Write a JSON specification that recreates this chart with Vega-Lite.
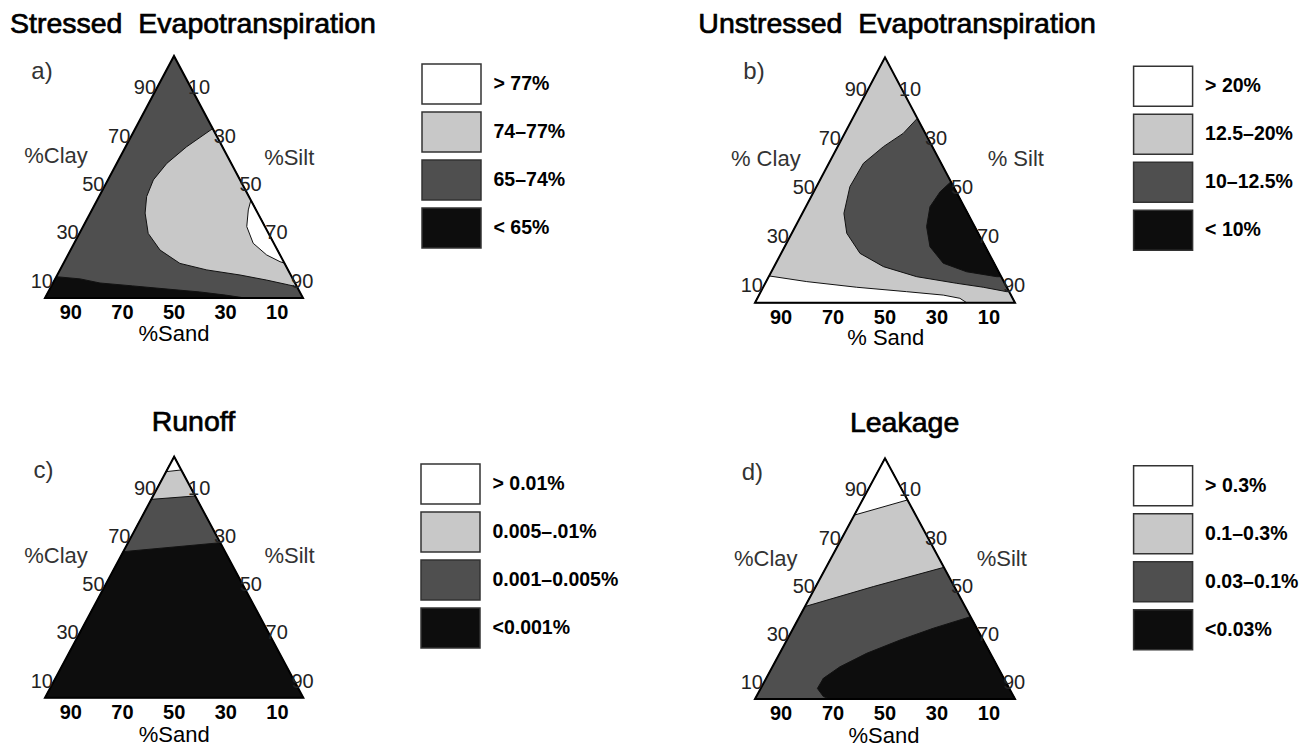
{
"$schema": "https://vega.github.io/schema/vega-lite/v6.json",
"padding": 0,
"spacing": 0,
"columns": 2,
"background": "white",
"config": {
  "view": {"stroke": null},
  "font": "Liberation Sans",
  "legend": {
    "orient": "none", "padding": 0, "offset": 0,
    "symbolType": "M-1.475,-1H1.475V1H-1.475Z", "symbolSize": 1600,
    "symbolStrokeColor": "#333", "symbolStrokeWidth": 1.5, "symbolOpacity": 1,
    "labelFont": "Liberation Sans", "labelFontSize": 19.5, "labelFontWeight": "bold", "labelColor": "#000",
    "labelOffset": 21, "labelLimit": 300, "labelBaseline": "middle", "rowPadding": 2
  }
},
"resolve": {"scale": {"x": "independent", "y": "independent", "fill": "independent"}, "legend": {"fill": "independent"}},
"datasets": {
  "ticks": [
    {"side":"left","label":"90","u":45,"c":90},{"side":"left","label":"70","u":35,"c":70},{"side":"left","label":"50","u":25,"c":50},{"side":"left","label":"30","u":15,"c":30},{"side":"left","label":"10","u":5,"c":10},
    {"side":"right","label":"10","u":55,"c":90},{"side":"right","label":"30","u":65,"c":70},{"side":"right","label":"50","u":75,"c":50},{"side":"right","label":"70","u":85,"c":30},{"side":"right","label":"90","u":95,"c":10},
    {"side":"bottom","label":"90","u":10,"c":0},{"side":"bottom","label":"70","u":30,"c":0},{"side":"bottom","label":"50","u":50,"c":0},{"side":"bottom","label":"30","u":70,"c":0},{"side":"bottom","label":"10","u":90,"c":0}
  ],
  "ra": [
    {"poly":"a0","level":0,"cat":"65–74%","i":0,"u":0,"c":0},{"poly":"a0","level":0,"cat":"65–74%","i":1,"u":50,"c":100},{"poly":"a0","level":0,"cat":"65–74%","i":2,"u":100,"c":0},
    {"poly":"a1","level":1,"cat":"< 65%","i":0,"u":0,"c":0},{"poly":"a1","level":1,"cat":"< 65%","i":1,"u":4.4,"c":8.8},{"poly":"a1","level":1,"cat":"< 65%","i":2,"u":13.6,"c":7.9},{"poly":"a1","level":1,"cat":"< 65%","i":3,"u":21.3,"c":6.2},{"poly":"a1","level":1,"cat":"< 65%","i":4,"u":34,"c":5},{"poly":"a1","level":1,"cat":"< 65%","i":5,"u":47.3,"c":3.7},{"poly":"a1","level":1,"cat":"< 65%","i":6,"u":60,"c":2.5},{"poly":"a1","level":1,"cat":"< 65%","i":7,"u":70,"c":1.2},{"poly":"a1","level":1,"cat":"< 65%","i":8,"u":77.5,"c":0},
    {"poly":"a2","level":1,"cat":"74–77%","i":0,"u":65,"c":70},{"poly":"a2","level":1,"cat":"74–77%","i":1,"u":97.7,"c":4.6},{"poly":"a2","level":1,"cat":"74–77%","i":2,"u":94.5,"c":5.4},{"poly":"a2","level":1,"cat":"74–77%","i":3,"u":85.9,"c":7.4},{"poly":"a2","level":1,"cat":"74–77%","i":4,"u":75.6,"c":9.5},{"poly":"a2","level":1,"cat":"74–77%","i":5,"u":62.7,"c":11.6},{"poly":"a2","level":1,"cat":"74–77%","i":6,"u":52.3,"c":14.3},{"poly":"a2","level":1,"cat":"74–77%","i":7,"u":44.6,"c":19.8},{"poly":"a2","level":1,"cat":"74–77%","i":8,"u":40,"c":26.7},{"poly":"a2","level":1,"cat":"74–77%","i":9,"u":38.8,"c":35.1},{"poly":"a2","level":1,"cat":"74–77%","i":10,"u":39.4,"c":41.9},{"poly":"a2","level":1,"cat":"74–77%","i":11,"u":42,"c":48.8},{"poly":"a2","level":1,"cat":"74–77%","i":12,"u":47.2,"c":55.6},{"poly":"a2","level":1,"cat":"74–77%","i":13,"u":54.9,"c":62.5},
    {"poly":"a3","level":2,"cat":"> 77%","i":0,"u":79.8,"c":40.4},{"poly":"a3","level":2,"cat":"> 77%","i":1,"u":78.8,"c":36.4},{"poly":"a3","level":2,"cat":"> 77%","i":2,"u":78.2,"c":29.5},{"poly":"a3","level":2,"cat":"> 77%","i":3,"u":80.7,"c":22.6},{"poly":"a3","level":2,"cat":"> 77%","i":4,"u":85.9,"c":17.8},{"poly":"a3","level":2,"cat":"> 77%","i":5,"u":91.1,"c":15},{"poly":"a3","level":2,"cat":"> 77%","i":6,"u":92.8,"c":14.4}
  ],
  "rb": [
    {"poly":"b0","level":0,"cat":"12.5–20%","i":0,"u":0,"c":0},{"poly":"b0","level":0,"cat":"12.5–20%","i":1,"u":50,"c":100},{"poly":"b0","level":0,"cat":"12.5–20%","i":2,"u":100,"c":0},
    {"poly":"b1","level":1,"cat":"> 20%","i":0,"u":0,"c":0},{"poly":"b1","level":1,"cat":"> 20%","i":1,"u":5.45,"c":10.9},{"poly":"b1","level":1,"cat":"> 20%","i":2,"u":19.9,"c":8.6},{"poly":"b1","level":1,"cat":"> 20%","i":3,"u":39.1,"c":6.3},{"poly":"b1","level":1,"cat":"> 20%","i":4,"u":58.3,"c":4.5},{"poly":"b1","level":1,"cat":"> 20%","i":5,"u":72.4,"c":3.1},{"poly":"b1","level":1,"cat":"> 20%","i":6,"u":78.8,"c":1.8},{"poly":"b1","level":1,"cat":"> 20%","i":7,"u":81.4,"c":0},
    {"poly":"b2","level":1,"cat":"10–12.5%","i":0,"u":62.4,"c":75.1},{"poly":"b2","level":1,"cat":"10–12.5%","i":1,"u":57,"c":69},{"poly":"b2","level":1,"cat":"10–12.5%","i":2,"u":49.4,"c":63.6},{"poly":"b2","level":1,"cat":"10–12.5%","i":3,"u":41.7,"c":56.8},{"poly":"b2","level":1,"cat":"10–12.5%","i":4,"u":36.5,"c":47.3},{"poly":"b2","level":1,"cat":"10–12.5%","i":5,"u":34.2,"c":36.4},{"poly":"b2","level":1,"cat":"10–12.5%","i":6,"u":35.3,"c":28.3},{"poly":"b2","level":1,"cat":"10–12.5%","i":7,"u":40.4,"c":20.1},{"poly":"b2","level":1,"cat":"10–12.5%","i":8,"u":49.4,"c":14.7},{"poly":"b2","level":1,"cat":"10–12.5%","i":9,"u":62.2,"c":10.6},{"poly":"b2","level":1,"cat":"10–12.5%","i":10,"u":77.6,"c":7.9},{"poly":"b2","level":1,"cat":"10–12.5%","i":11,"u":87.8,"c":6.3},{"poly":"b2","level":1,"cat":"10–12.5%","i":12,"u":96.8,"c":4.5},{"poly":"b2","level":1,"cat":"10–12.5%","i":13,"u":97.75,"c":4.5},
    {"poly":"b3","level":2,"cat":"< 10%","i":0,"u":75.35,"c":49.3},{"poly":"b3","level":2,"cat":"< 10%","i":1,"u":71.2,"c":45.2},{"poly":"b3","level":2,"cat":"< 10%","i":2,"u":67.3,"c":39.1},{"poly":"b3","level":2,"cat":"< 10%","i":3,"u":66,"c":31},{"poly":"b3","level":2,"cat":"< 10%","i":4,"u":67.3,"c":22.8},{"poly":"b3","level":2,"cat":"< 10%","i":5,"u":72.4,"c":16.1},{"poly":"b3","level":2,"cat":"< 10%","i":6,"u":81.4,"c":12.6},{"poly":"b3","level":2,"cat":"< 10%","i":7,"u":93,"c":10.6},{"poly":"b3","level":2,"cat":"< 10%","i":8,"u":94.7,"c":10.6}
  ],
  "rc": [
    {"poly":"c0","level":0,"cat":"<0.001%","i":0,"u":0,"c":0},{"poly":"c0","level":0,"cat":"<0.001%","i":1,"u":50,"c":100},{"poly":"c0","level":0,"cat":"<0.001%","i":2,"u":100,"c":0},
    {"poly":"c1","level":1,"cat":"0.001–0.005%","i":0,"u":30.3,"c":60.6},{"poly":"c1","level":1,"cat":"0.001–0.005%","i":1,"u":50,"c":100},{"poly":"c1","level":1,"cat":"0.001–0.005%","i":2,"u":67.85,"c":64.3},
    {"poly":"c2","level":2,"cat":"0.005–.01%","i":0,"u":41.15,"c":82.3},{"poly":"c2","level":2,"cat":"0.005–.01%","i":1,"u":50,"c":100},{"poly":"c2","level":2,"cat":"0.005–.01%","i":2,"u":58.15,"c":83.7},
    {"poly":"c3","level":3,"cat":"> 0.01%","i":0,"u":46.9,"c":93.8},{"poly":"c3","level":3,"cat":"> 0.01%","i":1,"u":50,"c":100},{"poly":"c3","level":3,"cat":"> 0.01%","i":2,"u":52.75,"c":94.5}
  ],
  "rd": [
    {"poly":"d0","level":0,"cat":"0.03–0.1%","i":0,"u":0,"c":0},{"poly":"d0","level":0,"cat":"0.03–0.1%","i":1,"u":50,"c":100},{"poly":"d0","level":0,"cat":"0.03–0.1%","i":2,"u":100,"c":0},
    {"poly":"d1","level":1,"cat":"<0.03%","i":0,"u":82.9,"c":34.2},{"poly":"d1","level":1,"cat":"<0.03%","i":1,"u":68.6,"c":29.4},{"poly":"d1","level":1,"cat":"<0.03%","i":2,"u":55.8,"c":24.5},{"poly":"d1","level":1,"cat":"<0.03%","i":3,"u":43,"c":19},{"poly":"d1","level":1,"cat":"<0.03%","i":4,"u":32.7,"c":13.4},{"poly":"d1","level":1,"cat":"<0.03%","i":5,"u":26.3,"c":8.6},{"poly":"d1","level":1,"cat":"<0.03%","i":6,"u":24,"c":4.4},{"poly":"d1","level":1,"cat":"<0.03%","i":7,"u":26.3,"c":1},{"poly":"d1","level":1,"cat":"<0.03%","i":8,"u":28.8,"c":0},{"poly":"d1","level":1,"cat":"<0.03%","i":9,"u":100,"c":0},
    {"poly":"d2","level":1,"cat":"0.1–0.3%","i":0,"u":19.2,"c":38.4},{"poly":"d2","level":1,"cat":"0.1–0.3%","i":1,"u":45.5,"c":46.7},{"poly":"d2","level":1,"cat":"0.1–0.3%","i":2,"u":72.65,"c":54.7},{"poly":"d2","level":1,"cat":"0.1–0.3%","i":3,"u":50,"c":100},
    {"poly":"d3","level":2,"cat":"> 0.3%","i":0,"u":38.2,"c":76.4},{"poly":"d3","level":2,"cat":"> 0.3%","i":1,"u":58.65,"c":82.7},{"poly":"d3","level":2,"cat":"> 0.3%","i":2,"u":50,"c":100}
  ],
  "ta": [
    {"kind":"title","label":"Stressed\u00a0\u00a0Evapotranspiration","u":-13.57,"c":109.4},
    {"kind":"letter","label":"a)","u":-5.31,"c":90.5},
    {"kind":"side","label":"%Clay","u":4.26,"c":55.7},
    {"kind":"side","label":"%Silt","u":94.65,"c":55},
    {"kind":"base","label":"%Sand","u":50,"c":-17.8}
  ],
  "tb": [
    {"kind":"title","label":"Unstressed\u00a0\u00a0Evapotranspiration","u":-21.81,"c":109.78},
    {"kind":"letter","label":"b)","u":-4.5,"c":91.2},
    {"kind":"side","label":"% Clay","u":4.15,"c":55.8},
    {"kind":"side","label":"% Silt","u":100.3,"c":55.8},
    {"kind":"base","label":"% Sand","u":50.3,"c":-17.3}
  ],
  "tc": [
    {"kind":"title","label":"Runoff","u":41.3,"c":110.7},
    {"kind":"letter","label":"c)","u":-4.5,"c":91},
    {"kind":"side","label":"%Clay","u":4.26,"c":55.8},
    {"kind":"side","label":"%Silt","u":94.65,"c":55.8},
    {"kind":"base","label":"%Sand","u":50,"c":-18.3}
  ],
  "td": [
    {"kind":"title","label":"Leakage","u":36.5,"c":110.9},
    {"kind":"letter","label":"d)","u":-5.1,"c":91},
    {"kind":"side","label":"%Clay","u":4.15,"c":55.4},
    {"kind":"side","label":"%Silt","u":94.9,"c":55.4},
    {"kind":"base","label":"%Sand","u":49.6,"c":-18.3}
  ]
},
"concat": [
  {
    "width": 656, "height": 373,
    "encoding": {
      "x": {"field": "u", "type": "quantitative", "axis": null, "scale": {"domain": [-17.442, 236.822], "nice": false, "zero": false}},
      "y": {"field": "c", "type": "quantitative", "axis": null, "scale": {"domain": [-30.992, 123.14], "nice": false, "zero": false}}
    },
    "layer": [
      {"data": {"name": "ra"}, "transform": [{"filter": "datum.level == 0"}], "mark": {"type": "line", "interpolate": "linear-closed", "stroke": "#111", "strokeWidth": 1},
       "encoding": {"detail": {"field": "poly"}, "order": {"field": "i", "type": "quantitative"},
         "fill": {"field": "cat", "type": "nominal", "scale": {"domain": ["> 77%", "74–77%", "65–74%", "< 65%"], "range": ["#ffffff", "#c8c8c8", "#4f4f4f", "#0d0d0d"]}, "legend": {"title": null, "orient": "none", "legendX": 430.5, "legendY": 63}}}},
      {"data": {"name": "ra"}, "transform": [{"filter": "datum.level == 1"}], "mark": {"type": "line", "interpolate": "linear-closed", "stroke": "#111", "strokeWidth": 1},
       "encoding": {"detail": {"field": "poly"}, "order": {"field": "i", "type": "quantitative"},
         "fill": {"field": "cat", "type": "nominal", "scale": {"domain": ["> 77%", "74–77%", "65–74%", "< 65%"], "range": ["#ffffff", "#c8c8c8", "#4f4f4f", "#0d0d0d"]}, "legend": {"title": null, "orient": "none", "legendX": 430.5, "legendY": 63}}}},
      {"data": {"name": "ra"}, "transform": [{"filter": "datum.level == 2"}], "mark": {"type": "line", "interpolate": "linear-closed", "stroke": "#111", "strokeWidth": 1},
       "encoding": {"detail": {"field": "poly"}, "order": {"field": "i", "type": "quantitative"},
         "fill": {"field": "cat", "type": "nominal", "scale": {"domain": ["> 77%", "74–77%", "65–74%", "< 65%"], "range": ["#ffffff", "#c8c8c8", "#4f4f4f", "#0d0d0d"]}, "legend": {"title": null, "orient": "none", "legendX": 430.5, "legendY": 63}}}},
      {"data": {"name": "ra"}, "transform": [{"filter": "datum.level == 0"}], "mark": {"type": "line", "interpolate": "linear-closed", "stroke": "#000", "strokeWidth": 2, "fill": "transparent"},
       "encoding": {"order": {"field": "i", "type": "quantitative"}}},
      {"data": {"name": "ticks"}, "transform": [{"filter": "datum.side == 'left'"}], "mark": {"type": "text", "align": "right", "baseline": "top", "dx": -5, "dy": -2, "fontSize": 20, "fill": "#222"}, "encoding": {"text": {"field": "label"}}},
      {"data": {"name": "ticks"}, "transform": [{"filter": "datum.side == 'right'"}], "mark": {"type": "text", "align": "left", "baseline": "top", "dx": 1, "dy": -2, "fontSize": 20, "fill": "#222"}, "encoding": {"text": {"field": "label"}}},
      {"data": {"name": "ticks"}, "transform": [{"filter": "datum.side == 'bottom'"}], "mark": {"type": "text", "align": "center", "baseline": "alphabetic", "dy": 21, "fontSize": 20, "fontWeight": "bold", "fill": "#000"}, "encoding": {"text": {"field": "label"}}},
      {"data": {"name": "ta"}, "transform": [{"filter": "datum.kind == 'title'"}], "mark": {"type": "text", "align": "left", "baseline": "alphabetic", "fontSize": 28.5, "fill": "#000", "stroke": "#000", "strokeWidth": 0.7}, "encoding": {"text": {"field": "label"}}},
      {"data": {"name": "ta"}, "transform": [{"filter": "datum.kind == 'letter'"}], "mark": {"type": "text", "align": "left", "baseline": "alphabetic", "fontSize": 24, "fill": "#333"}, "encoding": {"text": {"field": "label"}}},
      {"data": {"name": "ta"}, "transform": [{"filter": "datum.kind == 'side'"}], "mark": {"type": "text", "align": "center", "baseline": "alphabetic", "fontSize": 22, "fill": "#333"}, "encoding": {"text": {"field": "label"}}},
      {"data": {"name": "ta"}, "transform": [{"filter": "datum.kind == 'base'"}], "mark": {"type": "text", "align": "center", "baseline": "alphabetic", "fontSize": 22, "fill": "#000"}, "encoding": {"text": {"field": "label"}}}
    ]
  },
  {
    "width": 656, "height": 373,
    "encoding": {
      "x": {"field": "u", "type": "quantitative", "axis": null, "scale": {"domain": [-38.077, 214.231], "nice": false, "zero": false}},
      "y": {"field": "c", "type": "quantitative", "axis": null, "scale": {"domain": [-28.647, 123.35], "nice": false, "zero": false}}
    },
    "layer": [
      {"data": {"name": "rb"}, "transform": [{"filter": "datum.level == 0"}], "mark": {"type": "line", "interpolate": "linear-closed", "stroke": "#111", "strokeWidth": 1},
       "encoding": {"detail": {"field": "poly"}, "order": {"field": "i", "type": "quantitative"},
         "fill": {"field": "cat", "type": "nominal", "scale": {"domain": ["> 20%", "12.5–20%", "10–12.5%", "< 10%"], "range": ["#ffffff", "#c8c8c8", "#4f4f4f", "#0d0d0d"]}, "legend": {"title": null, "orient": "none", "legendX": 486.1, "legendY": 65.3}}}},
      {"data": {"name": "rb"}, "transform": [{"filter": "datum.level == 1"}], "mark": {"type": "line", "interpolate": "linear-closed", "stroke": "#111", "strokeWidth": 1},
       "encoding": {"detail": {"field": "poly"}, "order": {"field": "i", "type": "quantitative"},
         "fill": {"field": "cat", "type": "nominal", "scale": {"domain": ["> 20%", "12.5–20%", "10–12.5%", "< 10%"], "range": ["#ffffff", "#c8c8c8", "#4f4f4f", "#0d0d0d"]}, "legend": {"title": null, "orient": "none", "legendX": 486.1, "legendY": 65.3}}}},
      {"data": {"name": "rb"}, "transform": [{"filter": "datum.level == 2"}], "mark": {"type": "line", "interpolate": "linear-closed", "stroke": "#111", "strokeWidth": 1},
       "encoding": {"detail": {"field": "poly"}, "order": {"field": "i", "type": "quantitative"},
         "fill": {"field": "cat", "type": "nominal", "scale": {"domain": ["> 20%", "12.5–20%", "10–12.5%", "< 10%"], "range": ["#ffffff", "#c8c8c8", "#4f4f4f", "#0d0d0d"]}, "legend": {"title": null, "orient": "none", "legendX": 486.1, "legendY": 65.3}}}},
      {"data": {"name": "rb"}, "transform": [{"filter": "datum.level == 0"}], "mark": {"type": "line", "interpolate": "linear-closed", "stroke": "#000", "strokeWidth": 2, "fill": "transparent"},
       "encoding": {"order": {"field": "i", "type": "quantitative"}}},
      {"data": {"name": "ticks"}, "transform": [{"filter": "datum.side == 'left'"}], "mark": {"type": "text", "align": "right", "baseline": "top", "dx": -5, "dy": -2, "fontSize": 20, "fill": "#222"}, "encoding": {"text": {"field": "label"}}},
      {"data": {"name": "ticks"}, "transform": [{"filter": "datum.side == 'right'"}], "mark": {"type": "text", "align": "left", "baseline": "top", "dx": 1, "dy": -2, "fontSize": 20, "fill": "#222"}, "encoding": {"text": {"field": "label"}}},
      {"data": {"name": "ticks"}, "transform": [{"filter": "datum.side == 'bottom'"}], "mark": {"type": "text", "align": "center", "baseline": "alphabetic", "dy": 21, "fontSize": 20, "fontWeight": "bold", "fill": "#000"}, "encoding": {"text": {"field": "label"}}},
      {"data": {"name": "tb"}, "transform": [{"filter": "datum.kind == 'title'"}], "mark": {"type": "text", "align": "left", "baseline": "alphabetic", "fontSize": 28.5, "fill": "#000", "stroke": "#000", "strokeWidth": 0.7}, "encoding": {"text": {"field": "label"}}},
      {"data": {"name": "tb"}, "transform": [{"filter": "datum.kind == 'letter'"}], "mark": {"type": "text", "align": "left", "baseline": "alphabetic", "fontSize": 24, "fill": "#333"}, "encoding": {"text": {"field": "label"}}},
      {"data": {"name": "tb"}, "transform": [{"filter": "datum.kind == 'side'"}], "mark": {"type": "text", "align": "center", "baseline": "alphabetic", "fontSize": 22, "fill": "#333"}, "encoding": {"text": {"field": "label"}}},
      {"data": {"name": "tb"}, "transform": [{"filter": "datum.kind == 'base'"}], "mark": {"type": "text", "align": "center", "baseline": "alphabetic", "fontSize": 22, "fill": "#000"}, "encoding": {"text": {"field": "label"}}}
    ]
  },
  {
    "width": 656, "height": 373,
    "encoding": {
      "x": {"field": "u", "type": "quantitative", "axis": null, "scale": {"domain": [-17.422, 236.547], "nice": false, "zero": false}},
      "y": {"field": "c", "type": "quantitative", "axis": null, "scale": {"domain": [-20.04, 134.73], "nice": false, "zero": false}}
    },
    "layer": [
      {"data": {"name": "rc"}, "transform": [{"filter": "datum.level == 0"}], "mark": {"type": "line", "interpolate": "linear-closed", "stroke": "#111", "strokeWidth": 1},
       "encoding": {"detail": {"field": "poly"}, "order": {"field": "i", "type": "quantitative"},
         "fill": {"field": "cat", "type": "nominal", "scale": {"domain": ["> 0.01%", "0.005–.01%", "0.001–0.005%", "<0.001%"], "range": ["#ffffff", "#c8c8c8", "#4f4f4f", "#0d0d0d"]}, "legend": {"title": null, "orient": "none", "legendX": 429.5, "legendY": 90}}}},
      {"data": {"name": "rc"}, "transform": [{"filter": "datum.level == 1"}], "mark": {"type": "line", "interpolate": "linear-closed", "stroke": "#111", "strokeWidth": 1},
       "encoding": {"detail": {"field": "poly"}, "order": {"field": "i", "type": "quantitative"},
         "fill": {"field": "cat", "type": "nominal", "scale": {"domain": ["> 0.01%", "0.005–.01%", "0.001–0.005%", "<0.001%"], "range": ["#ffffff", "#c8c8c8", "#4f4f4f", "#0d0d0d"]}, "legend": {"title": null, "orient": "none", "legendX": 429.5, "legendY": 90}}}},
      {"data": {"name": "rc"}, "transform": [{"filter": "datum.level == 2"}], "mark": {"type": "line", "interpolate": "linear-closed", "stroke": "#111", "strokeWidth": 1},
       "encoding": {"detail": {"field": "poly"}, "order": {"field": "i", "type": "quantitative"},
         "fill": {"field": "cat", "type": "nominal", "scale": {"domain": ["> 0.01%", "0.005–.01%", "0.001–0.005%", "<0.001%"], "range": ["#ffffff", "#c8c8c8", "#4f4f4f", "#0d0d0d"]}, "legend": {"title": null, "orient": "none", "legendX": 429.5, "legendY": 90}}}},
      {"data": {"name": "rc"}, "transform": [{"filter": "datum.level == 3"}], "mark": {"type": "line", "interpolate": "linear-closed", "stroke": "#111", "strokeWidth": 1},
       "encoding": {"detail": {"field": "poly"}, "order": {"field": "i", "type": "quantitative"},
         "fill": {"field": "cat", "type": "nominal", "scale": {"domain": ["> 0.01%", "0.005–.01%", "0.001–0.005%", "<0.001%"], "range": ["#ffffff", "#c8c8c8", "#4f4f4f", "#0d0d0d"]}, "legend": {"title": null, "orient": "none", "legendX": 429.5, "legendY": 90}}}},
      {"data": {"name": "rc"}, "transform": [{"filter": "datum.level == 0"}], "mark": {"type": "line", "interpolate": "linear-closed", "stroke": "#000", "strokeWidth": 2, "fill": "transparent"},
       "encoding": {"order": {"field": "i", "type": "quantitative"}}},
      {"data": {"name": "ticks"}, "transform": [{"filter": "datum.side == 'left'"}], "mark": {"type": "text", "align": "right", "baseline": "top", "dx": -5, "dy": -2, "fontSize": 20, "fill": "#222"}, "encoding": {"text": {"field": "label"}}},
      {"data": {"name": "ticks"}, "transform": [{"filter": "datum.side == 'right'"}], "mark": {"type": "text", "align": "left", "baseline": "top", "dx": 1, "dy": -2, "fontSize": 20, "fill": "#222"}, "encoding": {"text": {"field": "label"}}},
      {"data": {"name": "ticks"}, "transform": [{"filter": "datum.side == 'bottom'"}], "mark": {"type": "text", "align": "center", "baseline": "alphabetic", "dy": 21, "fontSize": 20, "fontWeight": "bold", "fill": "#000"}, "encoding": {"text": {"field": "label"}}},
      {"data": {"name": "tc"}, "transform": [{"filter": "datum.kind == 'title'"}], "mark": {"type": "text", "align": "left", "baseline": "alphabetic", "fontSize": 28.5, "fill": "#000", "stroke": "#000", "strokeWidth": 0.7}, "encoding": {"text": {"field": "label"}}},
      {"data": {"name": "tc"}, "transform": [{"filter": "datum.kind == 'letter'"}], "mark": {"type": "text", "align": "left", "baseline": "alphabetic", "fontSize": 24, "fill": "#333"}, "encoding": {"text": {"field": "label"}}},
      {"data": {"name": "tc"}, "transform": [{"filter": "datum.kind == 'side'"}], "mark": {"type": "text", "align": "center", "baseline": "alphabetic", "fontSize": 22, "fill": "#333"}, "encoding": {"text": {"field": "label"}}},
      {"data": {"name": "tc"}, "transform": [{"filter": "datum.kind == 'base'"}], "mark": {"type": "text", "align": "center", "baseline": "alphabetic", "fontSize": 22, "fill": "#000"}, "encoding": {"text": {"field": "label"}}}
    ]
  },
  {
    "width": 656, "height": 373,
    "encoding": {
      "x": {"field": "u", "type": "quantitative", "axis": null, "scale": {"domain": [-38.077, 214.231], "nice": false, "zero": false}},
      "y": {"field": "c", "type": "quantitative", "axis": null, "scale": {"domain": [-19.53, 135.44], "nice": false, "zero": false}}
    },
    "layer": [
      {"data": {"name": "rd"}, "transform": [{"filter": "datum.level == 0"}], "mark": {"type": "line", "interpolate": "linear-closed", "stroke": "#111", "strokeWidth": 1},
       "encoding": {"detail": {"field": "poly"}, "order": {"field": "i", "type": "quantitative"},
         "fill": {"field": "cat", "type": "nominal", "scale": {"domain": ["> 0.3%", "0.1–0.3%", "0.03–0.1%", "<0.03%"], "range": ["#ffffff", "#c8c8c8", "#4f4f4f", "#0d0d0d"]}, "legend": {"title": null, "orient": "none", "legendX": 486.1, "legendY": 91.7}}}},
      {"data": {"name": "rd"}, "transform": [{"filter": "datum.level == 1"}], "mark": {"type": "line", "interpolate": "linear-closed", "stroke": "#111", "strokeWidth": 1},
       "encoding": {"detail": {"field": "poly"}, "order": {"field": "i", "type": "quantitative"},
         "fill": {"field": "cat", "type": "nominal", "scale": {"domain": ["> 0.3%", "0.1–0.3%", "0.03–0.1%", "<0.03%"], "range": ["#ffffff", "#c8c8c8", "#4f4f4f", "#0d0d0d"]}, "legend": {"title": null, "orient": "none", "legendX": 486.1, "legendY": 91.7}}}},
      {"data": {"name": "rd"}, "transform": [{"filter": "datum.level == 2"}], "mark": {"type": "line", "interpolate": "linear-closed", "stroke": "#111", "strokeWidth": 1},
       "encoding": {"detail": {"field": "poly"}, "order": {"field": "i", "type": "quantitative"},
         "fill": {"field": "cat", "type": "nominal", "scale": {"domain": ["> 0.3%", "0.1–0.3%", "0.03–0.1%", "<0.03%"], "range": ["#ffffff", "#c8c8c8", "#4f4f4f", "#0d0d0d"]}, "legend": {"title": null, "orient": "none", "legendX": 486.1, "legendY": 91.7}}}},
      {"data": {"name": "rd"}, "transform": [{"filter": "datum.level == 0"}], "mark": {"type": "line", "interpolate": "linear-closed", "stroke": "#000", "strokeWidth": 2, "fill": "transparent"},
       "encoding": {"order": {"field": "i", "type": "quantitative"}}},
      {"data": {"name": "ticks"}, "transform": [{"filter": "datum.side == 'left'"}], "mark": {"type": "text", "align": "right", "baseline": "top", "dx": -5, "dy": -2, "fontSize": 20, "fill": "#222"}, "encoding": {"text": {"field": "label"}}},
      {"data": {"name": "ticks"}, "transform": [{"filter": "datum.side == 'right'"}], "mark": {"type": "text", "align": "left", "baseline": "top", "dx": 1, "dy": -2, "fontSize": 20, "fill": "#222"}, "encoding": {"text": {"field": "label"}}},
      {"data": {"name": "ticks"}, "transform": [{"filter": "datum.side == 'bottom'"}], "mark": {"type": "text", "align": "center", "baseline": "alphabetic", "dy": 21, "fontSize": 20, "fontWeight": "bold", "fill": "#000"}, "encoding": {"text": {"field": "label"}}},
      {"data": {"name": "td"}, "transform": [{"filter": "datum.kind == 'title'"}], "mark": {"type": "text", "align": "left", "baseline": "alphabetic", "fontSize": 28.5, "fill": "#000", "stroke": "#000", "strokeWidth": 0.7}, "encoding": {"text": {"field": "label"}}},
      {"data": {"name": "td"}, "transform": [{"filter": "datum.kind == 'letter'"}], "mark": {"type": "text", "align": "left", "baseline": "alphabetic", "fontSize": 24, "fill": "#333"}, "encoding": {"text": {"field": "label"}}},
      {"data": {"name": "td"}, "transform": [{"filter": "datum.kind == 'side'"}], "mark": {"type": "text", "align": "center", "baseline": "alphabetic", "fontSize": 22, "fill": "#333"}, "encoding": {"text": {"field": "label"}}},
      {"data": {"name": "td"}, "transform": [{"filter": "datum.kind == 'base'"}], "mark": {"type": "text", "align": "center", "baseline": "alphabetic", "fontSize": 22, "fill": "#000"}, "encoding": {"text": {"field": "label"}}}
    ]
  }
]
}
